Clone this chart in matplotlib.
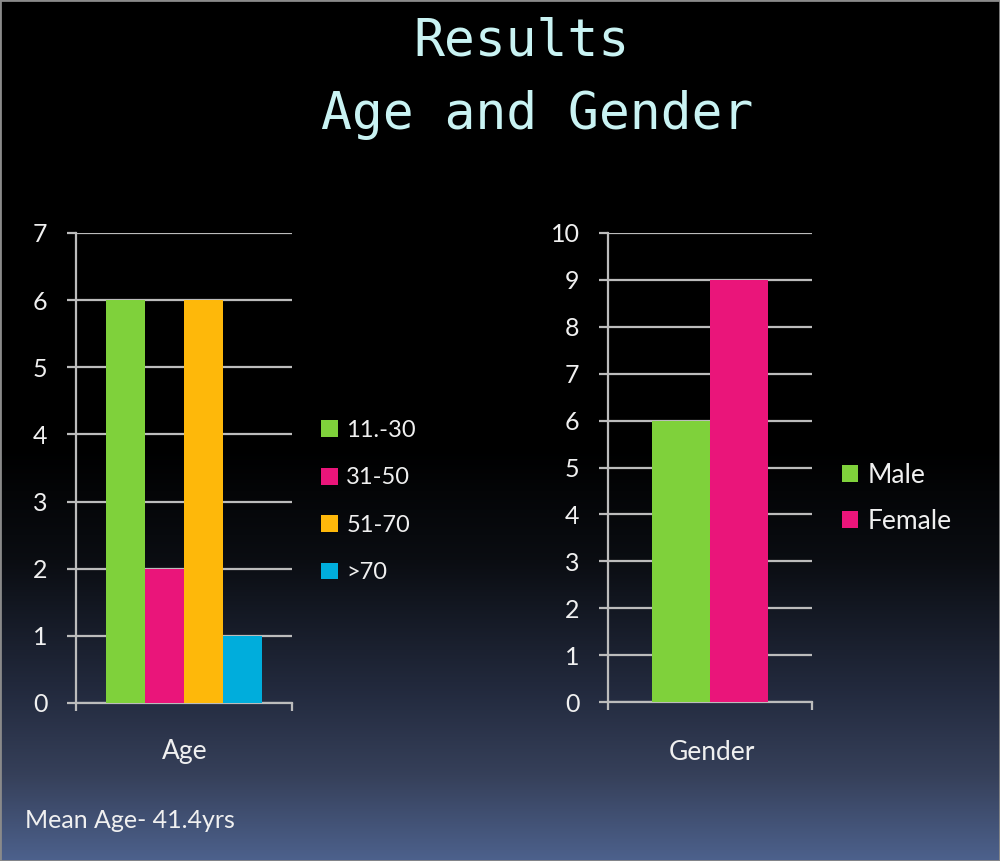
import numpy as np
import matplotlib.pyplot as plt
from matplotlib.patches import Patch, Rectangle

W, H = 1000, 861

# chart values
title_lines = ['Results', 'Age and Gender']
age_groups = ['11.-30', '31-50', '51-70', '>70']
age_counts = [6, 2, 6, 1]
age_colors = ['#7fd13b', '#ea157a', '#feb80a', '#00addc']
gender_groups = ['Male', 'Female']
gender_counts = [6, 9]
gender_colors = ['#7fd13b', '#ea157a']
age_ticks = list(range(0, 8))
gender_ticks = list(range(0, 11))
note_text = 'Mean Age- 41.4yrs'

plt.rcParams['font.family'] = ['Lato', 'DejaVu Sans']
GRID = '#bcbcbc'
TXT = '#f0f0f0'


def px_axes(fig, x0, y0, x1, y1, **kw):
    # pixel box (top-left origin) -> figure fraction
    return fig.add_axes([x0 / W, (H - y1) / H, (x1 - x0) / W, (y1 - y0) / H], **kw)


def style_axes(ax, ticks):
    ax.set_facecolor('none')
    for s in ['top', 'right']:
        ax.spines[s].set_visible(False)
    for s in ['left', 'bottom']:
        ax.spines[s].set_color(GRID)
        ax.spines[s].set_linewidth(1.6)
    ax.set_xlim(-0.5, 0.5)
    ax.set_ylim(0, ticks[-1])
    ax.set_yticks(ticks)
    ax.set_xticks([-0.5, 0.5])
    ax.set_xticklabels([])
    ax.tick_params(axis='y', length=6.5, width=1.6, color=GRID, pad=14,
                   labelsize=18, labelcolor=TXT)
    ax.tick_params(axis='x', length=6, width=1.6, color=GRID)
    ax.grid(True, axis='y', color=GRID, linewidth=1.6)
    ax.set_axisbelow(True)


fig = plt.figure(figsize=(W / 100, H / 100), dpi=100)

# background: black fading into slate blue at the bottom
bg = fig.add_axes([0, 0, 1, 1], zorder=-10)
yy = np.linspace(0, 1, 400)
stops = [0.0, 0.52, 0.65, 0.81, 0.9, 1.0]
r = np.interp(yy, stops, [0, 0, 0.04, 0.14, 0.21, 0.30])
g = np.interp(yy, stops, [0, 0, 0.05, 0.17, 0.25, 0.38])
b = np.interp(yy, stops, [0, 0, 0.07, 0.25, 0.35, 0.55])
grad = np.stack([r, g, b], axis=-1).reshape(-1, 1, 3)
bg.imshow(grad, aspect='auto', extent=[0, 1, 0, 1], origin='upper')
bg.set_axis_off()
bg.add_patch(Rectangle((0, 0), 1, 1, transform=bg.transAxes, fill=False,
                       edgecolor='#8a8a8a', linewidth=2))

# title
fig.text(521 / W, 1 - 42 / H, title_lines[0], family='DejaVu Sans Mono',
         fontsize=37, color='#c9f3f3', ha='center', va='center')
fig.text(537 / W, 1 - 115 / H, title_lines[1], family='DejaVu Sans Mono',
         fontsize=37, color='#c9f3f3', ha='center', va='center')

# Age chart
ax1 = px_axes(fig, 76, 233, 292, 703)
style_axes(ax1, age_ticks)
bw = 0.18
n = len(age_counts)
for i, (lab, v, c) in enumerate(zip(age_groups, age_counts, age_colors)):
    ax1.bar((i - (n - 1) / 2) * bw, v, width=bw, color=c, label=lab, zorder=3)
fig.text(185 / W, 1 - 752 / H, 'Age', fontsize=19, color=TXT, ha='center', va='center')

handles1 = [Patch(facecolor=c, edgecolor='none') for c in age_colors]
fig.legend(handles1, age_groups, loc='upper left', bbox_to_anchor=(321 / W, 1 - 420 / H),
           frameon=False, fontsize=17, labelcolor=TXT, handlelength=0.72, handleheight=0.72,
           handletextpad=0.35, labelspacing=1.12, borderpad=0, borderaxespad=0)

# Gender chart
ax2 = px_axes(fig, 608, 233, 812, 702)
style_axes(ax2, gender_ticks)
bw2 = 0.284
m = len(gender_counts)
for i, (lab, v, c) in enumerate(zip(gender_groups, gender_counts, gender_colors)):
    ax2.bar((i - (m - 1) / 2) * bw2, v, width=bw2, color=c, label=lab, zorder=3)
fig.text(712 / W, 1 - 752 / H, 'Gender', fontsize=19, color=TXT, ha='center', va='center')

handles2 = [Patch(facecolor=c, edgecolor='none') for c in gender_colors]
fig.legend(handles2, gender_groups, loc='upper left', bbox_to_anchor=(842 / W, 1 - 463 / H),
           frameon=False, fontsize=19, labelcolor=TXT, handlelength=0.62, handleheight=0.62,
           handletextpad=0.35, labelspacing=0.78, borderpad=0, borderaxespad=0)

fig.text(25 / W, 1 - 820 / H, note_text, fontsize=18, color=TXT, ha='left', va='center')

fig.savefig('out.png', dpi=100)
